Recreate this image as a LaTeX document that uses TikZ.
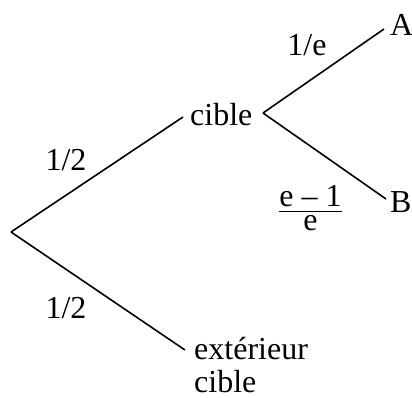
\RequirePackage{fix-cm}
\documentclass[tikz,border=0pt]{standalone}
\usepackage{amsmath}
\usepackage{fontspec}
\setmainfont{Liberation Serif}
\begin{document}
\begin{tikzpicture}[x=1pt,y=1pt,
  lbl/.style={inner sep=0pt, font=\fontsize{32}{36}\selectfont},
  branch/.style={line width=1.6pt}]
\useasboundingbox (0,0) rectangle (412,-397);
\coordinate (root) at (11,-232);
\node[lbl, anchor=base west] (c1) at (190,-125) {cible};
\coordinate (br) at (263,-113);
\node[lbl, anchor=base west] (A) at (390,-35) {A};
\node[lbl, anchor=base west] (B) at (390,-212) {B};
\node[lbl, anchor=base west] (ext) at (194,-359) {extérieur};
\node[lbl, anchor=base west] (ext2) at (194,-392) {cible};
\node[lbl, anchor=base] (p1) at (66,-170) {1/2};
\node[lbl, anchor=base] (p2) at (66,-318) {1/2};
\node[lbl, anchor=base] (pe) at (307,-55) {1/e};
\node[lbl, anchor=base] (pf) at (310.5,-219) {$\textstyle\frac{\textstyle\text{e – 1}}{\textstyle\text{e}}$};
\draw[branch] (root) -- ([shift={(-7pt,8pt)}]c1.base west);
\draw[branch] (root) -- ([shift={(-9pt,9pt)}]ext.base west);
\draw[branch] (br) -- ([shift={(-6pt,6pt)}]A.base west);
\draw[branch] (br) -- ([shift={(-4pt,13pt)}]B.base west);
\end{tikzpicture}
\end{document}
